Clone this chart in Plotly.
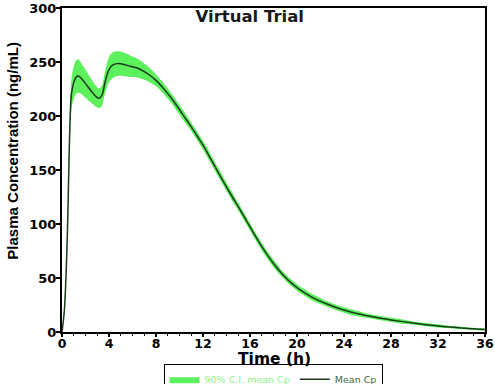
import plotly.graph_objects as go

time_h = [0, 0.2, 0.4, 0.5, 0.6, 0.7, 0.8, 1.0, 1.2, 1.4, 1.7, 2.0, 2.5, 2.9, 3.15, 3.4, 3.6, 3.8,
          4.0, 4.3, 4.7, 5.2, 5.8, 6.5, 7.0, 7.5, 8.0, 8.6, 9.2, 9.8, 10.3, 11.0, 11.5, 12.0,
          12.8, 13.7, 14.5, 15.0, 15.7, 16.5, 17.4, 18.0, 18.8, 19.5, 20.2, 21.0, 21.6, 22.5,
          23.4, 24.2, 25.0, 26.0, 27.0, 28.0, 29.0, 30.0, 31.0, 32.0, 33.0, 34.0, 35.0, 36.0]
mean_cp = [0, 20, 70, 110, 160, 200, 220, 231, 236, 237, 234, 230, 223, 218, 216.5, 219, 228, 237,
           243, 247, 248.5, 248, 246, 244, 241, 237.5, 233, 226, 218, 209, 201, 190, 181.5, 173,
           157.5, 140, 125, 116, 103, 88, 72.5, 63.5, 53, 45.5, 39.5, 34, 30.5, 26.2,
           22.5, 19.7, 17.3, 15, 13, 11.2, 9.6, 8.1, 6.8, 5.6, 4.6, 3.7, 2.9, 2.3]
ci_low = [0, 16, 62, 100, 148, 187, 206, 216, 220.5, 221.5, 220, 217, 212, 208.5, 207.5, 209.5, 218, 226,
          231.5, 235, 237, 237, 236, 235.5, 233.5, 231, 227.5, 221, 213.5, 204.5, 196.5, 186, 177.5, 169,
          153.5, 136, 121, 112.5, 99.5, 84.5, 69, 60, 50, 42.5, 36.5, 31, 27.5, 23.7,
          20, 17.2, 14.8, 13, 11, 9.2, 7.6, 6.6, 5.3, 4.1, 3.4, 2.5, 1.9, 1.3]
ci_high = [0, 24, 78, 120, 172, 213, 234, 246, 251.5, 252.5, 248, 243, 234, 227.5, 225.5, 228.5, 238, 248,
           254.5, 259, 260, 259, 256, 252.5, 248.5, 244, 238.5, 231, 222.5, 213.5, 205.5, 194, 185.5, 177,
           161.5, 144, 129, 119.5, 106.5, 91.5, 76, 67, 56, 48.5, 42.5, 37, 33.5, 28.7,
           25, 22.2, 19.8, 17, 15, 13.2, 11.6, 9.6, 8.3, 7.1, 5.8, 4.9, 3.9, 3.3]
x_ticks = [0, 4, 8, 12, 16, 20, 24, 28, 32, 36]
y_ticks = [0, 50, 100, 150, 200, 250, 300]

BAND = "#5CF05C"
fig = go.Figure()
fig.add_trace(go.Scatter(x=time_h, y=ci_low, mode="lines", line=dict(width=0, color=BAND, shape="spline"),
                         showlegend=False, hoverinfo="skip"))
fig.add_trace(go.Scatter(x=time_h, y=ci_high, mode="lines", line=dict(width=0, color=BAND, shape="spline"),
                         fill="tonexty", fillcolor=BAND,
                         name="<span style='color:#8CF58C'>90% C.I. mean Cp</span>"))
fig.add_trace(go.Scatter(x=time_h, y=mean_cp, mode="lines",
                         line=dict(width=1.5, color="#1C3A1C", shape="spline"),
                         name="<span style='color:#3A6A3A'>Mean Cp</span>"))

fig.update_layout(
    width=495, height=384,
    margin=dict(l=62, r=10, t=8, b=52, autoexpand=False),
    paper_bgcolor="white", plot_bgcolor="white",
    font=dict(family="DejaVu Sans", color="black"),
    title=dict(text="<b>Virtual Trial</b>", x=0.444, xanchor="center", xref="paper",
               y=0.958, yanchor="middle", yref="container",
               font=dict(size=16.5, family="DejaVu Sans", color="#1a1a1a")),
    showlegend=True,
    legend=dict(orientation="h", x=0.24, xanchor="left", y=-0.098, yanchor="top",
                traceorder="normal",
                bordercolor="black", borderwidth=1, bgcolor="rgba(255,255,255,0)",
                font=dict(size=9.5, family="DejaVu Sans"), itemwidth=30),
    xaxis=dict(range=[0, 36], tickvals=x_ticks, ticktext=[f"<b>{v}</b>" for v in x_ticks],
               ticks="outside", ticklen=3, tickwidth=2, tickcolor="black",
               showline=True, linewidth=2, linecolor="black", mirror=True, showgrid=False,
               zeroline=False, tickfont=dict(size=12.5, family="DejaVu Sans", color="black"),
               ticklabeloverflow="allow", ticklabelstandoff=-4,
               minor=dict(dtick=1, ticks="outside", ticklen=2, tickwidth=1, tickcolor="black")),
    yaxis=dict(range=[0, 300], tickvals=y_ticks, ticktext=[f"<b>{v}</b>" for v in y_ticks],
               ticks="outside", ticklen=4, tickwidth=2, tickcolor="black",
               showline=True, linewidth=2, linecolor="black", mirror=True, showgrid=False,
               zeroline=False, tickfont=dict(size=13, family="DejaVu Sans", color="black"),
               ticklabeloverflow="allow", ticklabelstandoff=-3),
    annotations=[
        dict(text="<b>Time (h)</b>", xref="paper", yref="paper", x=0.503, y=-0.082,
             xanchor="center", yanchor="middle", showarrow=False,
             font=dict(size=15.5, family="DejaVu Sans", color="black")),
        dict(text="<b>Plasma Concentration (ng/mL)</b>", xref="paper", yref="paper",
             x=-0.118, y=0.56, xanchor="center", yanchor="middle", textangle=-90,
             showarrow=False, font=dict(size=15, family="Liberation Sans", color="black")),
    ],
)

fig.write_html("out.html")
